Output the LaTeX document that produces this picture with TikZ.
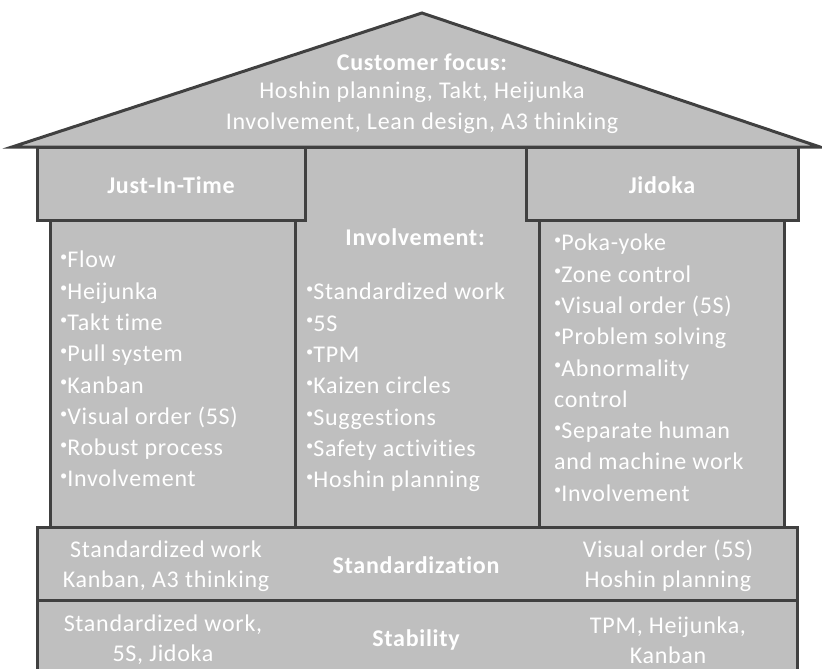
\documentclass[tikz,border=0pt]{standalone}
\usepackage{fontspec}
\setmainfont{Carlito}[LetterSpace=3, Ligatures=NoCommon]
\usepackage{graphicx}
\definecolor{wallgray}{HTML}{BFBFBF}
\definecolor{edgegray}{HTML}{404040}
\newcommand{\dotitem}{\raisebox{0.55ex}{\scalebox{0.6}{\textbullet}}}
\tikzset{
	part/.style={fill=wallgray, draw=edgegray, line width=3pt, line join=miter},
	txt/.style={text=white, inner sep=0pt, font=\fontsize{24}{30}\selectfont, align=center},
	head/.style={txt, font=\fontsize{24}{30}\selectfont\bfseries},
	lst/.style={txt, align=left, anchor=north west, font=\fontsize{24}{31.3}\selectfont}
}
\begin{document}
\begin{tikzpicture}[x=1pt,y=-1pt]
		\useasboundingbox (0,0) rectangle (822,669);
		%%roof
		\draw[part] (12,147) -- (422,13) -- (820,147) -- cycle;
		%%middle column
		\draw[part] (295,147) rectangle (539,527);
		%%pillars
		\draw[part] (50,220) rectangle (295,527);
		\draw[part] (539,220) rectangle (784,527);
		%%capitals
		\draw[part] (37,147) rectangle (305,220);
		\draw[part] (526,147) rectangle (798,220);
		%%foundation
		\draw[part] (37,527) rectangle (797,600);
		\draw[part] (37,672) -- (37,600) -- (797,600) -- (797,672);
		%%roof text
		\node[head] (focus) at (422,62) {Customer focus:};
		\node[txt] (focusa) at (422,92) {Hoshin planning, Takt, Heijunka};
		\node[txt] (focusb) at (422,123) {Involvement, Lean design, A3 thinking};
		%%capitals text
		\node[head] (jit) at (171,185) {Just-In-Time};
		\node[head] (jidoka) at (662,185) {Jidoka};
		\node[head] (involve) at (415,237) {Involvement:};
		%%lists
		\node[lst] (jitlist) at (60,251) {\dotitem Flow\\ \dotitem Heijunka\\ \dotitem Takt time\\ \dotitem Pull system\\ \dotitem Kanban\\ \dotitem Visual order (5S)\\ \dotitem Robust process\\ \dotitem Involvement};
		\node[lst] (involvelist) at (306,283) {\dotitem Standardized work\\ \dotitem 5S\\ \dotitem TPM\\ \dotitem Kaizen circles\\ \dotitem Suggestions\\ \dotitem Safety activities\\ \dotitem Hoshin planning};
		\node[lst] (jidokalist) at (554,234) {\dotitem Poka-yoke\\ \dotitem Zone control\\ \dotitem Visual order (5S)\\ \dotitem Problem solving\\ \dotitem Abnormality\\ control\\ \dotitem Separate human\\ and machine work\\ \dotitem Involvement};
		%%standardization
		\node[txt] (stdleft) at (166,566) {Standardized work\\Kanban, A3 thinking};
		\node[head] (std) at (416,565) {Standardization};
		\node[txt] (stdright) at (668,566) {Visual order (5S)\\Hoshin planning};
		%%stability
		\node[txt] (stableft) at (163,640) {Standardized work,\\5S, Jidoka};
		\node[head] (stab) at (416,640) {Stability};
		\node[txt] (stabright) at (668,640) {TPM, Heijunka,\\Kanban};
	\end{tikzpicture}
\end{document}
